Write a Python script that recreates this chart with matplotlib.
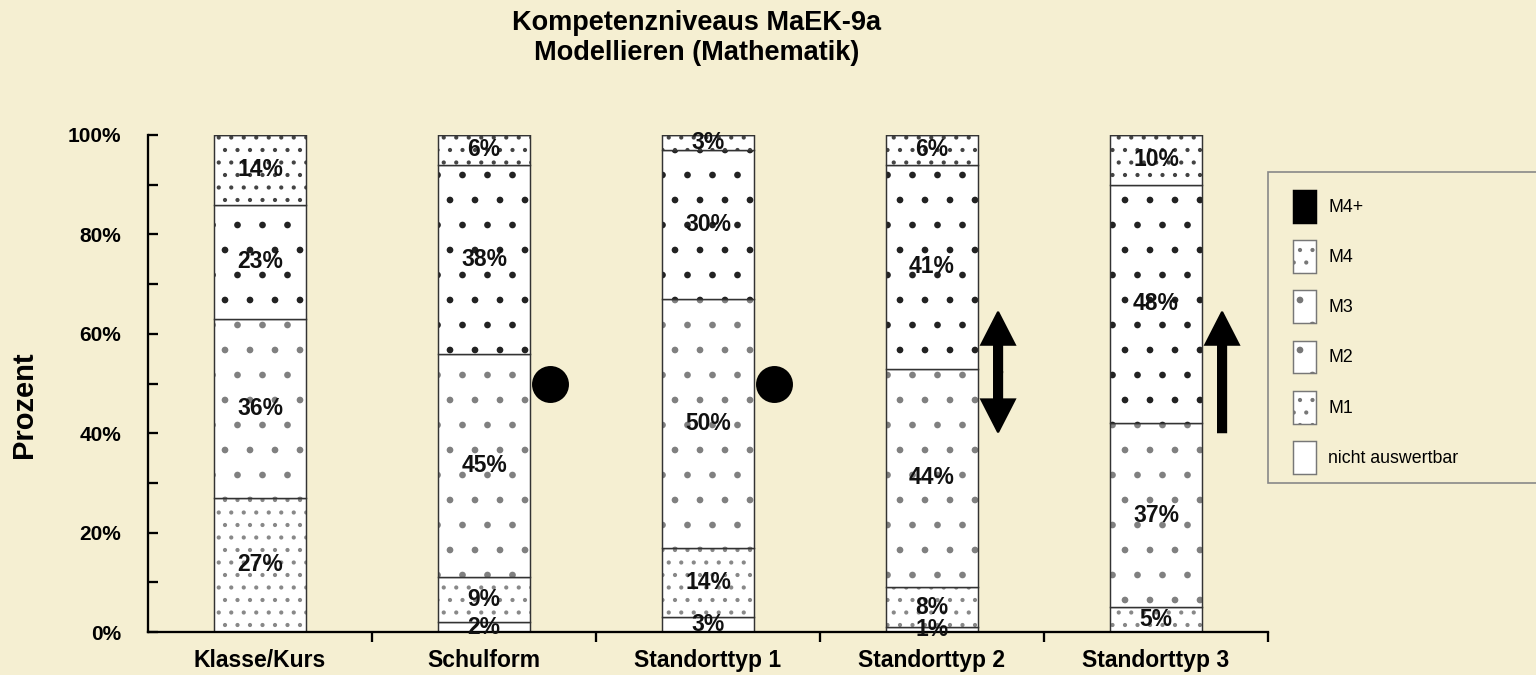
import matplotlib.pyplot as plt
from matplotlib.patches import Patch, Rectangle, FancyArrow
import numpy as np

plt.rcParams['font.family'] = ['Liberation Sans', 'DejaVu Sans']
plt.rcParams['hatch.linewidth'] = 0.8

# Daten
kategorien = ['Klasse/Kurs', 'Schulform', 'Standorttyp 1', 'Standorttyp 2', 'Standorttyp 3']
stufen = ['nicht auswertbar', 'M1', 'M2', 'M3', 'M4', 'M4+']
nicht = [0, 2, 3, 1, 0]
m1 = [27, 9, 14, 8, 5]
m2 = [36, 45, 50, 44, 37]
m3 = [23, 38, 30, 41, 48]
m4 = [14, 6, 3, 6, 10]
m4plus = [0, 0, 0, 0, 0]
symbole = ['', 'punkt', 'punkt', 'doppelpfeil', 'pfeil']

werte = [nicht, m1, m2, m3, m4, m4plus]
muster = ['', '..', '.', '.', '..', '']
mfarbe = ['#444444', '#888888', '#808080', '#222222', '#444444', 'black']
fuell = ['white', 'white', 'white', 'white', 'white', 'black']

hg = '#F5EFD2'
fig = plt.figure(figsize=(10.24, 4.5), dpi=150, facecolor=hg)
ax = fig.add_axes([148/1536, 1-632/675, 1120/1536, 497/675])
ax.set_facecolor(hg)

x = np.arange(len(kategorien))
breite = 0.41
unten = np.zeros(len(kategorien))
for w, h, c, f in zip(werte, muster, mfarbe, fuell):
    w = np.array(w, dtype=float)
    ax.bar(x, w, bottom=unten, width=breite, color=f, edgecolor=c, linewidth=0, hatch=h)
    ax.bar(x, w, bottom=unten, width=breite, fill=False, edgecolor='#333333', linewidth=0.7)
    for i in range(len(x)):
        if w[i] > 0 and f == 'white':
            ax.text(x[i], unten[i] + w[i]/2, '%d%%' % w[i], ha='center', va='center',
                    fontsize=11, fontweight='bold', color='#111111')
    unten = unten + w

# Symbole rechts neben den Balken
for i, s in enumerate(symbole):
    xs = i + 0.295
    if s == 'punkt':
        ax.scatter([xs], [50], s=280, color='black', zorder=5, clip_on=False)
    elif s == 'doppelpfeil':
        ax.add_patch(FancyArrow(xs, 52.3, 0, 12.1, width=0.036, head_width=0.15, head_length=6.6,
                                length_includes_head=True, color='black'))
        ax.add_patch(FancyArrow(xs, 52.3, 0, -12.1, width=0.036, head_width=0.15, head_length=6.6,
                                length_includes_head=True, color='black'))
    elif s == 'pfeil':
        ax.add_patch(FancyArrow(xs, 40.2, 0, 24.2, width=0.036, head_width=0.15, head_length=6.6,
                                length_includes_head=True, color='black'))

ax.set_xlim(-0.5, 4.5)
ax.set_ylim(0, 100)
ax.spines['top'].set_visible(False)
ax.spines['right'].set_visible(False)
ax.spines['left'].set_linewidth(1.1)
ax.spines['bottom'].set_linewidth(1.1)

ax.set_xticks(x)
ax.set_xticklabels(kategorien, fontsize=11, fontweight='bold')
ax.set_xticks(np.arange(0.5, 5, 1), minor=True)
ax.tick_params(axis='x', which='major', length=0, pad=8)
ax.tick_params(axis='x', which='minor', direction='out', length=5, width=1.1)

ax.set_yticks(np.arange(0, 101, 20))
ax.set_yticklabels(['%d%%' % v for v in range(0, 101, 20)], fontsize=10, fontweight='bold')
ax.set_yticks(np.arange(10, 100, 20), minor=True)
ax.tick_params(axis='y', which='both', direction='in', length=5, width=1.1, pad=13)
ax.set_ylabel('Prozent', fontsize=14, fontweight='bold')
ax.yaxis.set_label_coords(-0.098, 0.457)

fig.text(697/1536, 1-38/675, 'Kompetenzniveaus MaEK-9a\nModellieren (Mathematik)',
         ha='center', va='center', fontsize=13, fontweight='bold', linespacing=1.15)

# Legende
fig.patches.append(Rectangle((1268/1536, 1-483/675), 280/1536, 311/675, transform=fig.transFigure,
                             facecolor=hg, edgecolor='#888888', linewidth=0.8, figure=fig))
griffe = []
for name, h, c, f in zip(stufen[::-1], muster[::-1], mfarbe[::-1], fuell[::-1]):
    griffe.append(Patch(facecolor=f, edgecolor='#777777' if f == 'white' else 'black',
                        hatch=h, linewidth=0.7, label=name))
fig.legend(handles=griffe, loc='upper left', bbox_to_anchor=(1293/1536, 1-190/675),
           frameon=False, fontsize=8.5, handlelength=1.3, handleheight=2.45,
           labelspacing=1.0, handletextpad=0.7, borderpad=0, borderaxespad=0)

fig.savefig('out.png', dpi=150, facecolor=hg)
